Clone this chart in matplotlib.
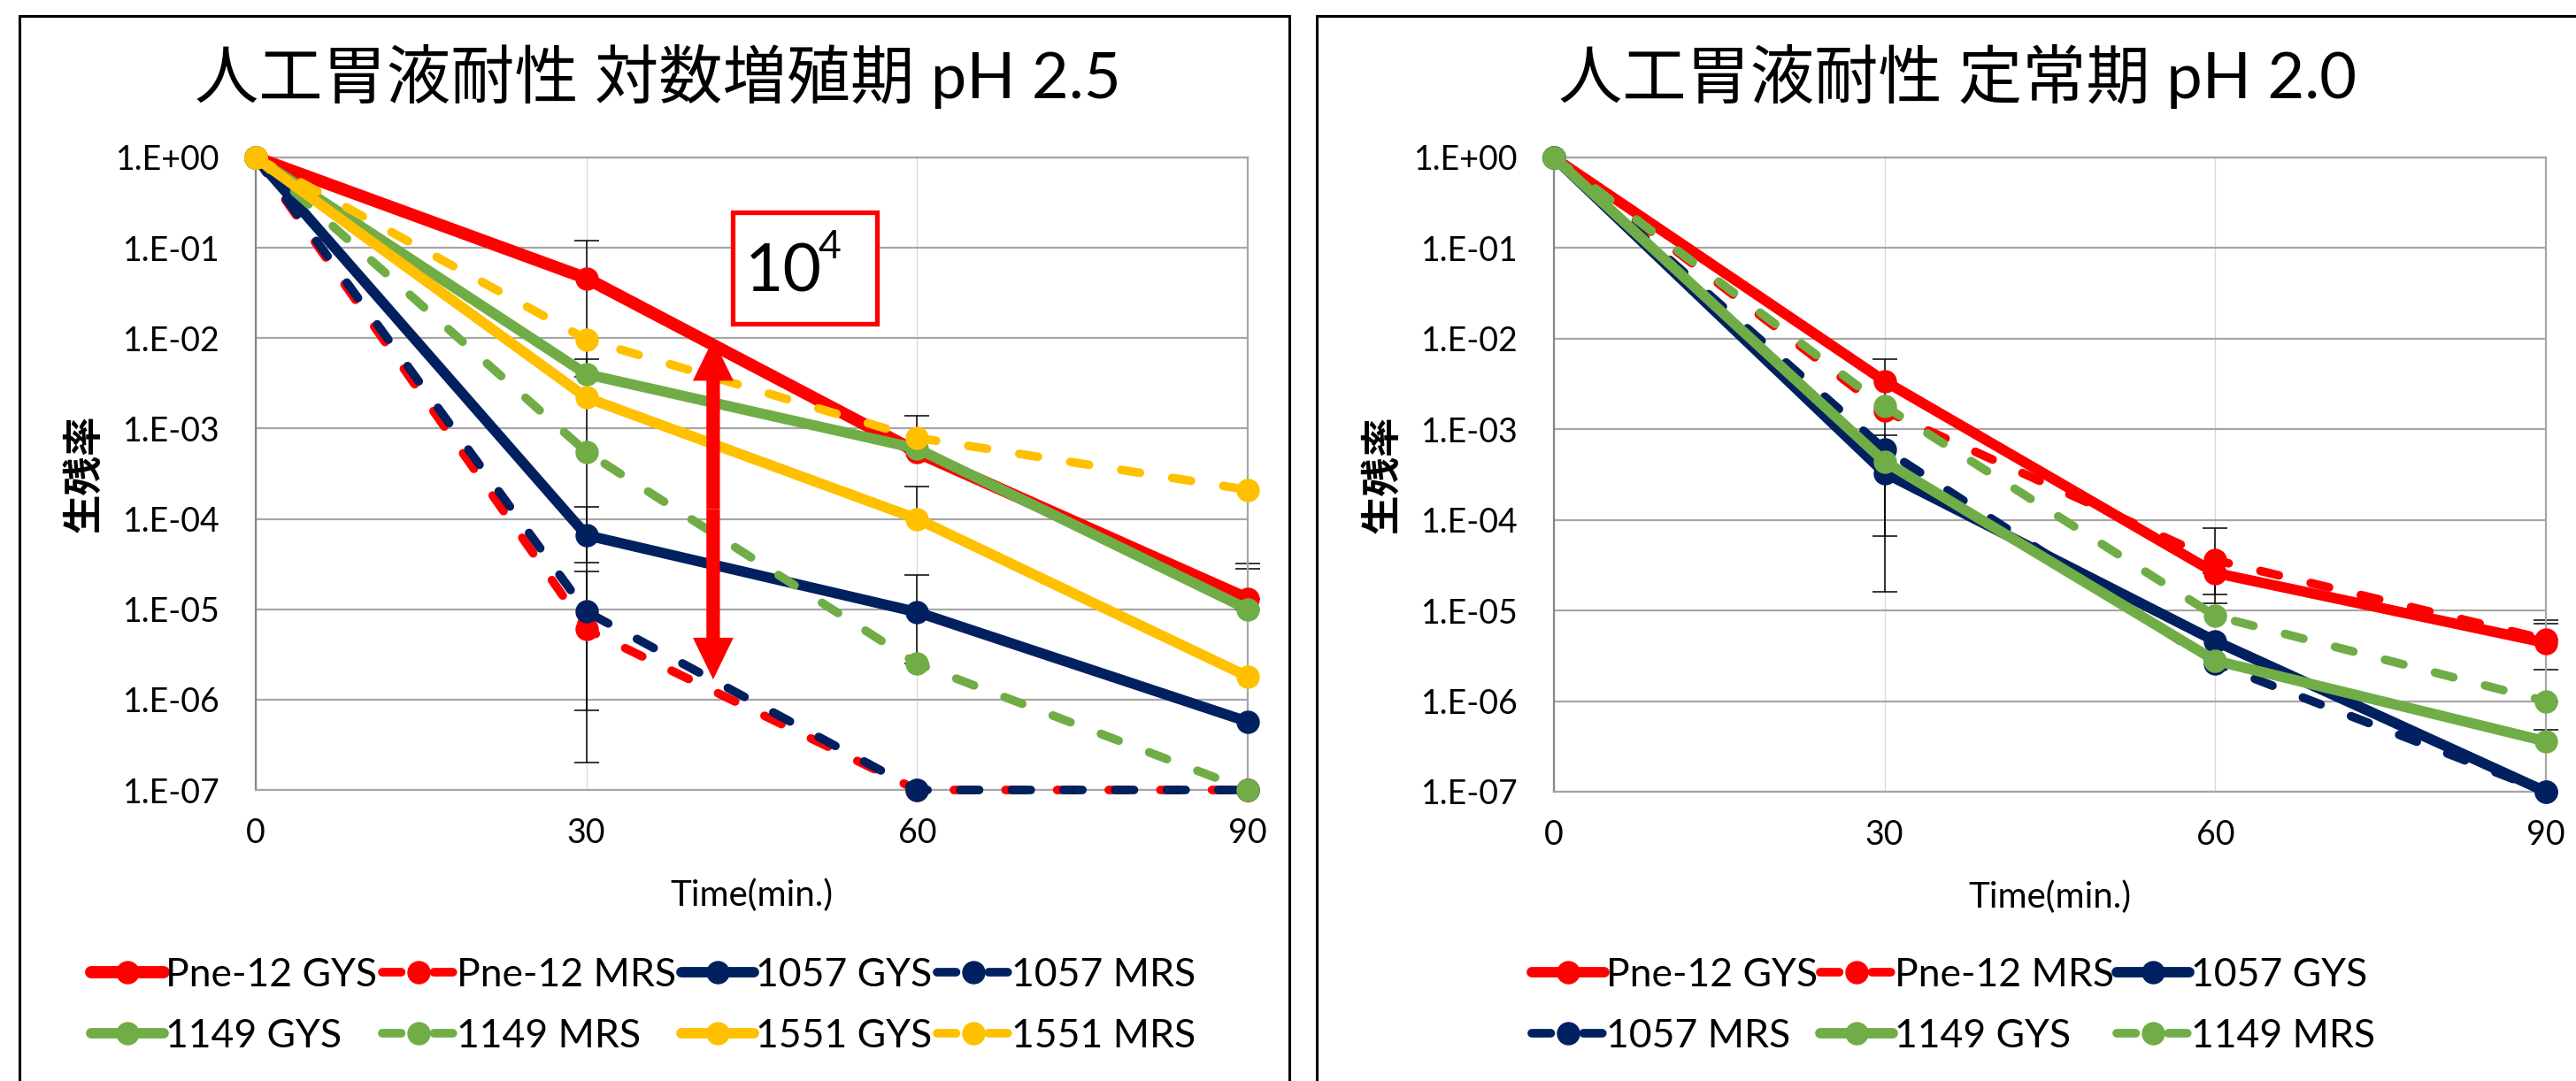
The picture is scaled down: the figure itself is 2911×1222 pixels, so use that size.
import numpy as np
import matplotlib
matplotlib.use("Agg")
import matplotlib.pyplot as plt
from matplotlib.patches import Rectangle, FancyArrowPatch
from matplotlib.ticker import FixedLocator, FuncFormatter

plt.rcParams['font.family'] = ['Lato', 'Noto Sans CJK JP']

# ---- data -------------------------------------------------------------
time_min = [0, 30, 60, 90]
decades = [1e0, 1e-1, 1e-2, 1e-3, 1e-4, 1e-5, 1e-6, 1e-7]

# 対数増殖期 pH 2.5
log_pne12_gys = [1.0, 4.6e-2, 5.5e-4, 1.3e-5]
log_pne12_mrs = [1.0, 6.0e-6, 1.0e-7, 1.0e-7]
log_1057_gys = [1.0, 6.6e-5, 9.3e-6, 5.7e-7]
log_1057_mrs = [1.0, 9.4e-6, 1.0e-7, 1.0e-7]
log_1149_gys = [1.0, 4.0e-3, 6.0e-4, 1.0e-5]
log_1149_mrs = [1.0, 5.5e-4, 2.5e-6, 1.0e-7]
log_1551_gys = [1.0, 2.2e-3, 1.0e-4, 1.8e-6]
log_1551_mrs = [1.0, 9.7e-3, 7.9e-4, 2.1e-4]

# error bar ends (lower / upper), None = no bar
log_pne12_gys_lo = [None, 2.0e-7, None, None]
log_pne12_gys_hi = [None, 1.2e-1, 1.4e-3, 3.2e-5]
log_1057_gys_lo = [None, 3.3e-5, 2.5e-6, None]
log_1057_gys_hi = [None, 1.35e-4, 2.4e-5, None]
log_1057_mrs_lo = [None, 7.6e-7, None, None]
log_1057_mrs_hi = [None, 2.6e-5, None, None]
log_1149_gys_lo = [None, 3.7e-3, None, None]
log_1149_gys_hi = [None, 5.9e-3, None, 2.8e-5]
log_1551_gys_hi = [None, None, 2.3e-4, None]

# 定常期 pH 2.0
st_pne12_gys = [1.0, 3.4e-3, 2.6e-5, 4.4e-6]
st_pne12_mrs = [1.0, 1.6e-3, 3.6e-5, 4.8e-6]
st_1057_gys = [1.0, 3.3e-4, 4.6e-6, 1.0e-7]
st_1057_mrs = [1.0, 6.0e-4, 2.6e-6, 1.0e-7]
st_1149_gys = [1.0, 4.4e-4, 2.8e-6, 3.6e-7]
st_1149_mrs = [1.0, 1.8e-3, 8.7e-6, 1.0e-6]

st_pne12_gys_lo = [None, 1.6e-5, 1.2e-5, 2.2e-6]
st_pne12_gys_hi = [None, 5.9e-3, None, 7.9e-6]
st_pne12_mrs_lo = [None, None, 1.5e-5, None]
st_pne12_mrs_hi = [None, None, 8.1e-5, 7.1e-6]
st_1057_mrs_lo = [None, 6.7e-5, None, None]
st_1057_mrs_hi = [None, 8.6e-4, None, None]
st_1149_mrs_lo = [None, None, None, 4.8e-7]

NONE4 = [None] * 4

RED, NAVY, GREEN, YELLOW = '#FF0000', '#002060', '#70AD47', '#FFC000'

log_series = [
    ('Pne-12 GYS', log_pne12_gys, RED, '-', 10, log_pne12_gys_lo, log_pne12_gys_hi),
    ('Pne-12 MRS', log_pne12_mrs, RED, '--', 7, NONE4, NONE4),
    ('1057 GYS', log_1057_gys, NAVY, '-', 8.5, log_1057_gys_lo, log_1057_gys_hi),
    ('1057 MRS', log_1057_mrs, NAVY, '--', 7, log_1057_mrs_lo, log_1057_mrs_hi),
    ('1149 GYS', log_1149_gys, GREEN, '-', 8.5, log_1149_gys_lo, log_1149_gys_hi),
    ('1149 MRS', log_1149_mrs, GREEN, '--', 7, NONE4, NONE4),
    ('1551 GYS', log_1551_gys, YELLOW, '-', 8.5, NONE4, log_1551_gys_hi),
    ('1551 MRS', log_1551_mrs, YELLOW, '--', 7, NONE4, NONE4),
]
st_series = [
    ('Pne-12 GYS', st_pne12_gys, RED, '-', 8.5, st_pne12_gys_lo, st_pne12_gys_hi),
    ('Pne-12 MRS', st_pne12_mrs, RED, '--', 7, st_pne12_mrs_lo, st_pne12_mrs_hi),
    ('1057 GYS', st_1057_gys, NAVY, '-', 8.5, NONE4, NONE4),
    ('1057 MRS', st_1057_mrs, NAVY, '--', 7, st_1057_mrs_lo, st_1057_mrs_hi),
    ('1149 GYS', st_1149_gys, GREEN, '-', 8.5, NONE4, NONE4),
    ('1149 MRS', st_1149_mrs, GREEN, '--', 7, st_1149_mrs_lo, NONE4),
]

W, H = 2911, 1222
fig = plt.figure(figsize=(W / 100, H / 100), dpi=100)


def fx(px):
    return px / W


def fy(px):
    return 1 - px / H


def draw_panel(rect, series, title, title_x, legend_x, ncol, colspace):
    ax = fig.add_axes(rect)
    ax.set_yscale('log')
    ax.set_xlim(0, 90)
    ax.set_ylim(1e-7, 1)

    for label, vals, color, ls, lw, lo, hi in series:
        line, = ax.plot(time_min, vals, color=color, ls=ls, lw=lw, marker='o',
                        markersize=18, label=label, clip_on=False, zorder=3,
                        solid_capstyle='round', dash_capstyle='round')
        if ls == '--':
            line.set_dashes((2.2, 3.8))
        xs, ys, el, eh = [], [], [], []
        for t, v, a, b in zip(time_min, vals, lo, hi):
            if a is None and b is None:
                continue
            xs.append(t)
            ys.append(v)
            el.append(v - a if a is not None else 0)
            eh.append(b - v if b is not None else 0)
        if xs:
            ax.errorbar(xs, ys, yerr=[el, eh], fmt='none', ecolor='black',
                        elinewidth=1.1, capsize=10, capthick=1.1, zorder=2,
                        clip_on=False)

    ax.yaxis.set_major_locator(FixedLocator(decades))
    ax.yaxis.set_minor_locator(FixedLocator([]))
    ax.yaxis.set_major_formatter(
        FuncFormatter(lambda v, p: '1.E%+03d' % int(round(np.log10(v)))))
    ax.set_xticks(time_min)
    ax.tick_params(axis='both', length=0, labelsize=27, colors='black')
    ax.tick_params(axis='y', pad=29)
    ax.tick_params(axis='x', pad=22)

    ax.grid(axis='y', color='#A6A6A6', lw=1.6, zorder=0)
    ax.grid(axis='x', color='#D9D9D9', lw=1.0, zorder=0)
    for s in ax.spines.values():
        s.set_color('#A6A6A6')
        s.set_linewidth(1.6)
    ax.spines['left'].set_color('#868686')
    ax.set_axisbelow(True)

    ax.set_xlabel('Time(min.)', fontsize=29)
    ax.xaxis.set_label_coords(0.5, -0.14)
    ax.set_ylabel('生残率', fontsize=32, fontweight='bold')
    ax.yaxis.set_label_coords(-0.155, 0.5)

    fig.text(title_x, fy(86), title, fontsize=52, ha='center', va='center')

    handles, labels = ax.get_legend_handles_labels()
    n = len(handles)
    nrow = int(np.ceil(n / ncol))
    order = [r * ncol + c for c in range(ncol) for r in range(nrow)
             if r * ncol + c < n]
    fig.legend([handles[i] for i in order], [labels[i] for i in order],
               loc='upper left', bbox_to_anchor=(legend_x, fy(1082)),
               ncol=ncol, frameon=False, fontsize=32, borderpad=0,
               borderaxespad=0, handlelength=1.85, handletextpad=0.05,
               columnspacing=colspace, labelspacing=0.62)
    return ax


ax1 = draw_panel([fx(289), fy(893), fx(1410 - 289), (893 - 178) / H],
                 log_series, '人工胃液耐性 対数増殖期 pH 2.5', fx(743),
                 fx(103), 4, 0.12)
ax2 = draw_panel([fx(1756), fy(895), fx(2877 - 1756), (895 - 178) / H],
                 st_series, '人工胃液耐性 定常期 pH 2.0', fx(2212),
                 fx(1731), 3, 0.05)

# 10^4 annotation on the left panel
ax1.add_patch(Rectangle((0.481, 0.737), 0.145, 0.176, transform=ax1.transAxes,
                        facecolor='white', edgecolor='#FF0000', lw=3.8,
                        zorder=5))
ax1.text(0.532, 0.818, '10', transform=ax1.transAxes, fontsize=54,
         ha='center', va='center', zorder=6)
ax1.text(0.578, 0.858, '4', transform=ax1.transAxes, fontsize=32,
         ha='center', va='center', zorder=6)

arrow_x = 41.5
arrow_top = 9.8e-3
arrow_bottom = 1.67e-6
arrow_mid = np.sqrt(arrow_top * arrow_bottom)
for end in (arrow_top, arrow_bottom):
    ax1.add_patch(FancyArrowPatch(
        (arrow_x, arrow_mid), (arrow_x, end), mutation_scale=1,
        arrowstyle='simple,tail_width=11,head_width=33,head_length=34',
        color='#FF0000', lw=0, shrinkA=0, shrinkB=0, zorder=7))

# chart frames
fig.patches.append(Rectangle((fx(22), fy(1240)), fx(1457 - 22), (1240 - 18) / H,
                             transform=fig.transFigure, fill=False,
                             edgecolor='black', lw=2.2))
fig.patches.append(Rectangle((fx(1488), fy(1240)), fx(1500), (1240 - 18) / H,
                             transform=fig.transFigure, fill=False,
                             edgecolor='black', lw=2.2))

fig.savefig('out.png', dpi=100)
